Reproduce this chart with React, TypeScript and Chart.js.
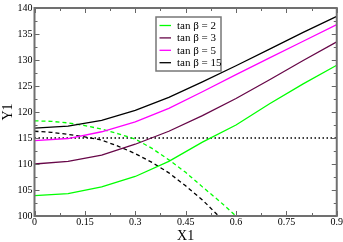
import React, { useEffect, useRef } from "react";
import { Chart, registerables } from "chart.js";
Chart.register(...registerables);

const xSolid = [0, 0.1, 0.2, 0.3, 0.4, 0.5, 0.6, 0.7, 0.8, 0.9];
const tb2 = [103.9, 104.3, 105.6, 107.6, 110.5, 114.2, 117.5, 121.6, 125.4, 129.0];
const tb3 = [110.0, 110.5, 111.7, 113.8, 116.3, 119.3, 122.6, 126.2, 129.9, 133.5];
const tb5 = [114.5, 114.9, 116.2, 118.1, 120.7, 123.9, 127.2, 130.4, 133.6, 136.8];
const tb15 = [116.9, 117.3, 118.4, 120.3, 122.8, 125.8, 128.9, 132.1, 135.3, 138.4];

const xGreenDash = [0, 0.05, 0.1, 0.15, 0.2, 0.25, 0.3, 0.35, 0.4, 0.45, 0.5, 0.55, 0.6];
const greenDash = [118.3, 118.2, 117.9, 117.4, 116.7, 115.8, 114.8, 113.0, 110.8, 108.4, 105.6, 102.9, 100.0];
const xBlackDash = [0, 0.05, 0.1, 0.15, 0.2, 0.25, 0.3, 0.35, 0.4, 0.45, 0.5, 0.548];
const blackDash = [116.3, 116.1, 115.7, 115.2, 114.6, 113.4, 112.0, 110.3, 108.3, 105.8, 103.1, 100.0];

const refX = [0, 0.9];
const refY = [115, 115];

const xTicks = [0, 0.15, 0.3, 0.45, 0.6, 0.75, 0.9];
const xTickLabels = ["0", "0.15", "0.3", "0.45", "0.6", "0.75", "0.9"];
const yTicks = [100, 105, 110, 115, 120, 125, 130, 135, 140];
const yTickLabels = ["100", "105", "110", "115", "120", "125", "130", "135", "140"];
const legendLabels = ["tan \u03b2 = 2", "tan \u03b2 = 3", "tan \u03b2 = 5", "tan \u03b2 = 15"];
const colors = ["#00ff00", "#670748", "#ff00ff", "#000000"];

const FONT = "'Liberation Serif', 'Times New Roman', serif";

const pts = (xs: number[], ys: number[]) => xs.map((x, i) => ({ x, y: ys[i] }));

const framePlugin = {
  id: "frameTicks",
  afterDraw(chart: any) {
    const { ctx, chartArea, scales } = chart;
    const { left, right, top, bottom } = chartArea;
    const x = scales.x;
    const y = scales.y;
    ctx.save();
    ctx.strokeStyle = "#666";
    ctx.lineWidth = 1;
    const drawX = (v: number, len: number) => {
      const px = Math.round(x.getPixelForValue(v)) + 0.5;
      ctx.beginPath();
      ctx.moveTo(px, bottom);
      ctx.lineTo(px, bottom - len);
      ctx.moveTo(px, top);
      ctx.lineTo(px, top + len);
      ctx.stroke();
    };
    const drawY = (v: number, len: number) => {
      const py = Math.round(y.getPixelForValue(v)) + 0.5;
      ctx.beginPath();
      ctx.moveTo(left, py);
      ctx.lineTo(left + len, py);
      ctx.moveTo(right, py);
      ctx.lineTo(right - len, py);
      ctx.stroke();
    };
    xTicks.forEach((v, i) => {
      drawX(v, 5);
      if (i < xTicks.length - 1) drawX((v + xTicks[i + 1]) / 2, 3);
    });
    yTicks.forEach((v, i) => {
      drawY(v, 5);
      if (i < yTicks.length - 1) drawY((v + yTicks[i + 1]) / 2, 3);
    });
    ctx.lineWidth = 2;
    ctx.strokeStyle = "#707070";
    ctx.strokeRect(left, top, right - left, bottom - top);

    // legend
    const bx = left + 121.5;
    const by = top + 9;
    const bw = 65;
    const bh = 54;
    ctx.fillStyle = "#fff";
    ctx.fillRect(bx, by, bw, bh);
    ctx.lineWidth = 1.5;
    ctx.strokeStyle = "#777";
    ctx.strokeRect(bx, by, bw, bh);
    ctx.font = `11px ${FONT}`;
    ctx.textBaseline = "middle";
    ctx.textAlign = "left";
    legendLabels.forEach((lab, i) => {
      const ly = by + 8.5 + i * 12.4;
      ctx.strokeStyle = colors[i];
      ctx.lineWidth = 1.3;
      ctx.beginPath();
      ctx.moveTo(bx + 3.5, ly);
      ctx.lineTo(bx + 15, ly);
      ctx.stroke();
      ctx.fillStyle = "#000";
      ctx.fillText(lab, bx + 21, ly + 0.5);
    });
    ctx.restore();
  },
};

export default function App() {
  const ref = useRef<HTMLCanvasElement | null>(null);
  useEffect(() => {
    document.body.style.margin = "0";
    const canvas = ref.current;
    if (!canvas) return;
    const chart = new Chart(canvas, {
      type: "line",
      data: {
        datasets: [
          { label: legendLabels[0], data: pts(xSolid, tb2), borderColor: colors[0] },
          { label: legendLabels[1], data: pts(xSolid, tb3), borderColor: colors[1] },
          { label: legendLabels[2], data: pts(xSolid, tb5), borderColor: colors[2] },
          { label: legendLabels[3], data: pts(xSolid, tb15), borderColor: colors[3] },
          { label: "dash2", data: pts(xGreenDash, greenDash), borderColor: colors[0], borderDash: [4, 3] },
          { label: "dash15", data: pts(xBlackDash, blackDash), borderColor: colors[3], borderDash: [4, 3] },
          { label: "ref", data: pts(refX, refY), borderColor: "#000", borderDash: [1.5, 2.5] },
        ].map((d) => ({ ...d, borderWidth: 1.3, pointRadius: 0, tension: 0, fill: false })) as any,
      },
      options: {
        animation: false,
        responsive: false,
        maintainAspectRatio: false,
        layout: { padding: { left: 0, right: 6, top: 4, bottom: 0 } },
        plugins: { legend: { display: false }, tooltip: { enabled: false } },
        scales: {
          x: {
            type: "linear",
            min: 0,
            max: 0.9,
            afterBuildTicks: (s: any) => {
              s.ticks = xTicks.map((v) => ({ value: v }));
            },
            afterFit: (s: any) => {
              s.height = 26;
            },
            grid: { display: false, drawTicks: false },
            border: { display: false },
            ticks: {
              callback: (_v: any, i: number) => xTickLabels[i],
              font: { family: FONT, size: 10 },
              color: "#000",
              maxRotation: 0,
              padding: 0,
            },
            title: {
              display: true,
              text: "X1",
              font: { family: FONT, size: 14 },
              color: "#000",
              padding: { top: 0, bottom: -3 },
            },
          },
          y: {
            type: "linear",
            min: 100,
            max: 140,
            afterBuildTicks: (s: any) => {
              s.ticks = yTicks.map((v) => ({ value: v }));
            },
            afterFit: (s: any) => {
              s.width = 34.5;
            },
            grid: { display: false, drawTicks: false },
            border: { display: false },
            ticks: {
              callback: (_v: any, i: number) => yTickLabels[i],
              font: { family: FONT, size: 10 },
              color: "#000",
              padding: 2,
            },
            title: { display: true, text: "Y1", font: { family: FONT, size: 14 }, color: "#000", padding: 0 },
          },
        },
      },
      plugins: [framePlugin],
    });
    return () => chart.destroy();
  }, []);
  return (
    <div style={{ width: 343, height: 242 }}>
      <canvas ref={ref} width={343} height={242} style={{ display: "block" }} />
    </div>
  );
}
